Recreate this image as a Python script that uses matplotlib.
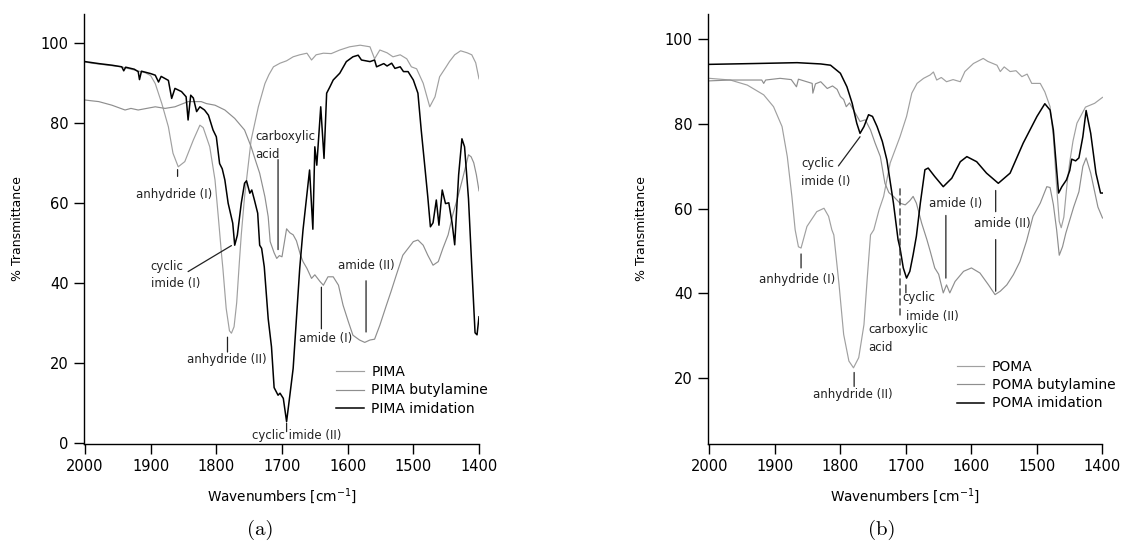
import matplotlib
matplotlib.use("Agg")
import matplotlib.pyplot as plt

plt.rcParams['font.family'] = ['DejaVu Sans']

# ---- (a) PIMA ----
pima_wn = [2000, 1990, 1975, 1960, 1945, 1935, 1920, 1908, 1900, 1893, 1883, 1873, 1866, 1858,
           1848, 1835, 1825, 1820, 1810, 1802, 1797, 1792, 1790, 1785, 1780, 1777, 1773, 1769,
           1765, 1762, 1757, 1747, 1736, 1726, 1720, 1713, 1703, 1693, 1683, 1673, 1662, 1655,
           1648, 1637, 1625, 1612, 1597, 1581, 1566, 1559, 1551, 1540, 1531, 1520, 1510, 1503,
           1495, 1485, 1475, 1467, 1460, 1450, 1445, 1437, 1428, 1418, 1411, 1405, 1400]
pima_t = [95.2, 94.9, 94.6, 94.3, 94.0, 93.6, 93.0, 92.5, 91.8, 89.8, 84.8, 79.0, 72.4, 69.0,
          70.3, 75.7, 79.4, 78.8, 74.0, 65.7, 56.5, 47.0, 43.6, 33.6, 28.0, 27.4, 29.0, 35.0,
          45.0, 52.0, 61.5, 75.7, 84.0, 89.8, 92.0, 94.0, 94.9, 95.5, 96.5, 97.0, 97.4, 95.7,
          97.0, 97.4, 97.3, 98.2, 99.0, 99.4, 99.0, 96.0, 98.2, 97.5, 96.5, 97.0, 96.0, 94.0,
          93.5, 89.9, 84.0, 86.5, 91.5, 94.0, 95.3, 97.0, 98.0, 97.5, 97.0, 95.0, 91.0]

pima_buta_wn = [2000, 1990, 1979, 1959, 1939, 1930, 1919, 1906, 1893, 1878, 1863, 1843, 1823,
                1815, 1802, 1787, 1772, 1757, 1747, 1739, 1734, 1726, 1721, 1718, 1712, 1708,
                1704, 1700, 1693, 1688, 1683, 1678, 1672, 1668, 1662, 1655, 1650, 1642, 1637,
                1630, 1622, 1614, 1607, 1599, 1592, 1582, 1574, 1566, 1559, 1551, 1541, 1534,
                1526, 1516, 1508, 1500, 1493, 1485, 1478, 1470, 1462, 1455, 1447, 1440, 1433,
                1425, 1416, 1412, 1408, 1404, 1400]
pima_buta_t = [85.7, 85.5, 85.3, 84.4, 83.2, 83.6, 83.2, 83.6, 84.0, 83.6, 84.0, 85.3, 85.3,
               84.8, 84.4, 83.2, 81.1, 78.2, 74.0, 69.9, 67.4, 61.5, 56.5, 50.3, 47.5, 46.1,
               46.8, 46.5, 53.5, 52.5, 52.0, 50.5, 47.0, 45.3, 43.6, 41.1, 42.0, 40.3, 39.4,
               41.5, 41.5, 39.4, 34.4, 30.3, 26.9, 25.7, 25.1, 25.7, 25.9, 29.4, 34.4, 37.8,
               41.9, 46.9, 48.6, 50.3, 50.7, 49.4, 46.9, 44.4, 45.3, 48.6, 52.0, 57.0, 61.0,
               66.0, 72.0, 71.5, 70.0, 67.0, 63.0]

pima_imid_wn = [2000, 1979, 1959, 1944, 1941, 1938, 1925, 1919, 1917, 1914, 1900, 1893, 1888,
                1884, 1873, 1868, 1863, 1853, 1846, 1843, 1839, 1835, 1830, 1825, 1818, 1812,
                1805, 1800, 1795, 1791, 1787, 1782, 1775, 1772, 1768, 1762, 1757, 1754, 1749,
                1746, 1742, 1737, 1734, 1731, 1727, 1721, 1716, 1712, 1706, 1703, 1698, 1693,
                1688, 1683, 1678, 1673, 1668, 1658, 1653, 1650, 1647, 1641, 1636, 1632, 1627,
                1622, 1612, 1602, 1592, 1584, 1579, 1566, 1559, 1556, 1545, 1540, 1533, 1528,
                1520, 1515, 1508, 1500, 1493, 1488, 1483, 1478, 1474, 1470, 1465, 1461, 1456,
                1451, 1446, 1441, 1437, 1431, 1426, 1422, 1416, 1411, 1406, 1403, 1400]
pima_imid_t = [95.3, 94.8, 94.4, 94.0, 93.0, 93.9, 93.4, 92.8, 90.8, 92.9, 92.3, 91.9, 90.2,
               91.6, 90.6, 86.1, 88.6, 87.8, 86.5, 80.7, 86.9, 86.2, 82.8, 84.0, 83.2, 81.9,
               78.2, 76.5, 69.8, 68.5, 65.7, 59.9, 54.9, 49.4, 51.9, 59.9, 64.9, 65.5, 62.4,
               63.2, 60.7, 57.4, 49.4, 48.6, 44.0, 31.0, 24.0, 13.8, 11.9, 12.4, 11.1, 5.3,
               11.9, 18.6, 31.1, 43.6, 53.2, 68.2, 53.4, 74.0, 69.4, 84.0, 71.1, 87.4, 89.0,
               90.7, 92.4, 95.3, 96.5, 96.9, 95.7, 95.3, 95.7, 94.0, 94.8, 94.2, 94.9, 93.6,
               94.0, 92.8, 92.8, 90.7, 87.4, 78.2, 69.9, 61.5, 54.0, 55.0, 60.7, 54.4, 63.2,
               59.8, 60.0, 55.0, 49.5, 67.0, 76.0, 74.0, 61.0, 44.0, 27.5, 27.0, 31.5]

# ---- (b) POMA ----
poma_wn = [2000, 1968, 1942, 1917, 1902, 1889, 1881, 1874, 1869, 1864, 1860, 1851, 1836, 1825,
           1818, 1813, 1810, 1802, 1795, 1787, 1780, 1772, 1764, 1759, 1754, 1749, 1741, 1734,
           1724, 1709, 1699, 1691, 1683, 1673, 1663, 1658, 1653, 1646, 1638, 1628, 1617, 1610,
           1597, 1582, 1575, 1561, 1556, 1550, 1541, 1532, 1523, 1515, 1508, 1495, 1488, 1480,
           1475, 1470, 1466, 1463, 1459, 1454, 1450, 1445, 1439, 1426, 1412, 1400]
poma_t = [90.8, 90.4, 89.2, 86.9, 84.1, 79.4, 72.3, 62.9, 55.0, 51.0, 50.7, 55.8, 59.3, 60.1,
          58.2, 55.0, 53.8, 42.0, 30.3, 24.0, 22.4, 24.8, 32.6, 43.6, 53.8, 55.0, 59.7, 62.9,
          70.8, 77.0, 81.8, 87.3, 89.6, 90.8, 91.6, 92.3, 90.4, 91.0, 90.0, 90.5, 90.0, 92.4,
          94.3, 95.5, 94.8, 93.9, 92.4, 93.5, 92.4, 92.6, 91.2, 91.8, 89.6, 89.6, 87.6, 84.1,
          77.0, 65.2, 57.0, 55.5, 58.0, 66.0, 71.0, 76.0, 80.2, 84.0, 84.9, 86.3]

poma_buta_wn = [2000, 1968, 1942, 1920, 1917, 1914, 1892, 1875, 1867, 1864, 1843, 1842, 1838,
                1830, 1820, 1812, 1805, 1800, 1795, 1791, 1786, 1777, 1770, 1762, 1754, 1747,
                1739, 1732, 1726, 1719, 1709, 1701, 1694, 1689, 1684, 1676, 1668, 1663, 1656,
                1650, 1643, 1638, 1633, 1625, 1612, 1600, 1587, 1574, 1564, 1556, 1546, 1536,
                1526, 1516, 1506, 1495, 1485, 1480, 1475, 1470, 1466, 1461, 1456, 1444, 1436,
                1430, 1425, 1418, 1407, 1400]
poma_buta_t = [90.2, 90.4, 90.4, 90.4, 89.6, 90.4, 90.8, 90.5, 88.8, 90.6, 89.6, 87.3, 89.5,
               90.0, 88.4, 89.0, 88.2, 86.5, 85.8, 84.1, 85.0, 82.5, 80.6, 81.0, 78.6, 75.5,
               72.3, 66.0, 63.8, 62.9, 61.3, 60.9, 61.9, 62.9, 61.3, 56.6, 52.7, 50.0, 46.0,
               44.5, 40.1, 42.0, 40.1, 42.8, 45.2, 46.0, 44.8, 42.0, 39.7, 40.5, 42.0, 44.4,
               47.5, 52.3, 58.2, 61.3, 65.2, 65.0, 61.0, 55.0, 49.0, 51.0, 54.2, 60.4, 64.0,
               70.0, 72.0, 68.4, 60.4, 57.8]

poma_imid_wn = [2000, 1930, 1866, 1830, 1815, 1800, 1790, 1782, 1775, 1770, 1764, 1757, 1751,
                1744, 1736, 1729, 1719, 1712, 1709, 1704, 1699, 1694, 1689, 1684, 1678, 1671,
                1666, 1656, 1643, 1630, 1617, 1607, 1592, 1577, 1559, 1541, 1521, 1500, 1488,
                1480, 1475, 1470, 1467, 1462, 1455, 1450, 1447, 1441, 1436, 1430, 1425, 1418,
                1410, 1403, 1400]
poma_imid_t = [94.1, 94.3, 94.5, 94.2, 93.9, 92.0, 88.8, 84.9, 80.2, 77.8, 79.4, 82.2, 81.8,
               79.4, 75.9, 71.5, 61.3, 52.7, 50.7, 46.0, 43.6, 45.2, 49.1, 53.5, 61.3, 69.2,
               69.6, 67.6, 65.2, 67.2, 71.1, 72.3, 71.1, 68.4, 66.0, 68.4, 75.5, 81.8, 84.8,
               83.3, 78.6, 69.2, 63.7, 65.2, 66.8, 69.0, 71.7, 71.3, 72.0, 77.0, 83.2, 77.8,
               68.4, 63.7, 63.7]

C_PLAIN = '#a0a0a0'
C_AMINE = '#8e8e8e'
C_IMID = 'black'
ANN = 8.5
LINE = dict(arrowstyle='-', lw=0.9, color='#222222', shrinkA=0, shrinkB=0)

fig = plt.figure(figsize=(11.23, 5.43), dpi=100)
ax1 = fig.add_axes([84 / 1123, 1 - 444 / 543, 395 / 1123, 430 / 543])
ax2 = fig.add_axes([708 / 1123, 1 - 444 / 543, 394.5 / 1123, 430 / 543])


def style(ax, ylim, yticks):
    ax.set_ylim(*ylim)
    ax.set_xticks(range(2000, 1399, -100))
    ax.set_yticks(yticks)
    for s in ('top', 'right'):
        ax.spines[s].set_visible(False)
    for s in ('left', 'bottom'):
        ax.spines[s].set_linewidth(1.0)
    ax.tick_params(direction='out', length=7, width=1, labelsize=10.5, pad=4)
    ax.set_xlabel('Wavenumbers [cm$^{-1}$]', fontsize=9.8)
    ax.xaxis.set_label_coords(0.5, -0.098)
    ax.set_ylabel('% Transmittance', fontsize=9)
    ax.yaxis.set_label_coords(-0.152, 0.5)


def ann(ax, text, x, y, ha='center'):
    ax.text(x, y, text, fontsize=ANN, ha=ha, va='center', color='#222222', linespacing=1.45)


def seg(ax, x0, y0, x1, y1, **kw):
    ax.annotate('', xy=(x1, y1), xytext=(x0, y0), arrowprops=dict(LINE, **kw))


# (a)
ax1.plot(pima_wn, pima_t, color=C_PLAIN, lw=0.85, label='PIMA')
ax1.plot(pima_buta_wn, pima_buta_t, color=C_AMINE, lw=0.85, label='PIMA butylamine')
ax1.plot(pima_imid_wn, pima_imid_t, color=C_IMID, lw=1.1, label='PIMA imidation')
style(ax1, (-0.3, 107.2), [0, 20, 40, 60, 80, 100])
ax1.set_xlim(2001.5, 1400)

ann(ax1, 'anhydride (I)', 1864, 62)
seg(ax1, 1859, 68.3, 1859, 66.6)
ann(ax1, 'carboxylic\nacid', 1740, 74.3, ha='left')
seg(ax1, 1706, 70.8, 1706, 48.3)
ann(ax1, 'cyclic\nimide (I)', 1900, 42.0, ha='left')
seg(ax1, 1843, 42.8, 1777, 49.3)
ann(ax1, 'anhydride (II)', 1784, 20.8)
seg(ax1, 1783, 26.4, 1783, 22.7)
ann(ax1, 'cyclic imide (II)', 1678, 1.8)
seg(ax1, 1693, 4.9, 1693, 2.8)
ann(ax1, 'amide (I)', 1634, 26.0)
seg(ax1, 1640, 38.9, 1640, 28.5)
ann(ax1, 'amide (II)', 1571, 44.3)
seg(ax1, 1572, 40.5, 1572, 27.7)

ax1.legend(loc='upper left', bbox_to_anchor=(0.638, 0.183), frameon=False, fontsize=10,
           borderpad=0, borderaxespad=0, handlelength=2.0, handletextpad=0.55,
           labelspacing=0.3)

# (b)
ax2.plot(poma_wn, poma_t, color=C_PLAIN, lw=0.85, label='POMA')
ax2.plot(poma_buta_wn, poma_buta_t, color=C_AMINE, lw=0.85, label='POMA butylamine')
ax2.plot(poma_imid_wn, poma_imid_t, color=C_IMID, lw=1.1, label='POMA imidation')
style(ax2, (4.4, 106), [20, 40, 60, 80, 100])
ax2.set_xlim(2002, 1400)

ann(ax2, 'cyclic\nimide (I)', 1860, 68.6, ha='left')
seg(ax2, 1803, 70.1, 1770, 77.0)
ann(ax2, 'anhydride (I)', 1866, 43.3)
seg(ax2, 1860, 49.3, 1860, 46.0)
ann(ax2, 'anhydride (II)', 1781, 16.0)
seg(ax2, 1779, 21.3, 1779, 18.0)
ann(ax2, 'carboxylic\nacid', 1757, 29.3, ha='left')
seg(ax2, 1709, 64.7, 1709, 34.3, linestyle=(0, (5, 3)))
ax2.text(1705, 38.9, 'cyclic', fontsize=ANN, ha='left', va='center', color='#222222')
ax2.text(1700, 34.6, 'imide (II)', fontsize=ANN, ha='left', va='center', color='#222222')
seg(ax2, 1700, 42.0, 1700, 40.1)
ann(ax2, 'amide (I)', 1624, 61.3)
seg(ax2, 1639, 58.4, 1639, 43.6)
ann(ax2, 'amide (II)', 1553, 56.6)
seg(ax2, 1563, 64.3, 1563, 59.3)
seg(ax2, 1563, 52.7, 1563, 40.5)

ax2.legend(loc='upper left', bbox_to_anchor=(0.630, 0.195), frameon=False, fontsize=10,
           borderpad=0, borderaxespad=0, handlelength=2.0, handletextpad=0.55,
           labelspacing=0.3)

fig.text(260 / 1123, 1 - 530 / 543, '(a)', fontsize=15, family='cmr10', ha='center', va='center')
fig.text(882 / 1123, 1 - 530 / 543, '(b)', fontsize=15, family='cmr10', ha='center', va='center')

fig.savefig('out.png', dpi=100)
